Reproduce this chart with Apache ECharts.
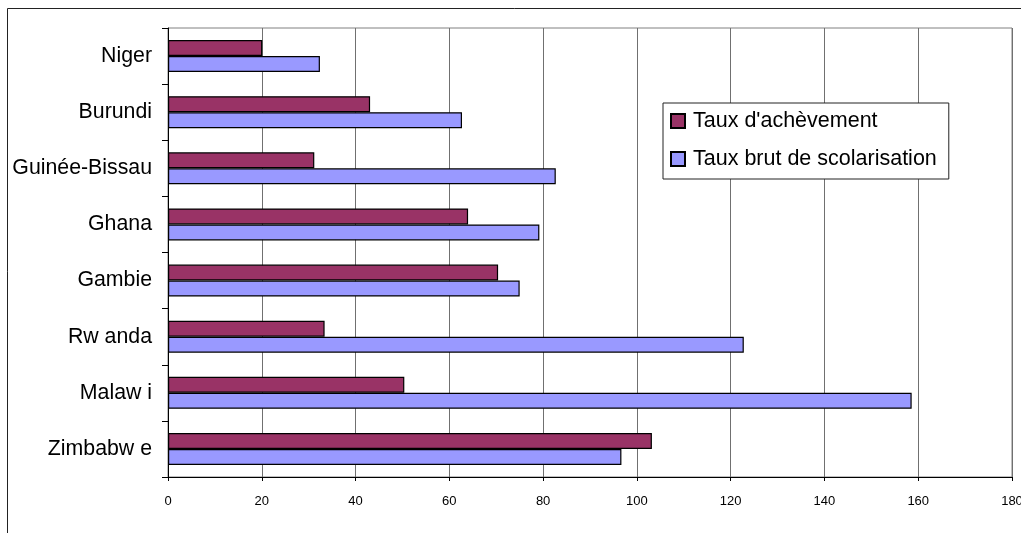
<!DOCTYPE html>
<html>
<head>
<meta charset="utf-8">
<title>Taux d'achèvement et taux brut de scolarisation</title>
<script src="https://cdn.jsdelivr.net/npm/echarts@6/dist/echarts.min.js"></script>
<style>
  html, body { margin: 0; padding: 0; background: #fff; }
  #chart { width: 1021px; height: 533px; }
</style>
</head>
<body>
<div id="chart"></div>
<script>
// Countries, top to bottom
const countries = ['Niger', 'Burundi', 'Guinée-Bissau', 'Ghana', 'Gambie', 'Rw anda', 'Malaw i', 'Zimbabw e'];
// Completion rate (%)
const tauxAchevement = [20.1, 43.1, 31.2, 64.0, 70.4, 33.4, 50.4, 103.2];
// Gross enrolment ratio (%)
const tauxBrut = [32.4, 62.7, 82.7, 79.2, 75.0, 122.8, 158.6, 96.7];
// Value axis ticks
const xTicks = [0, 20, 40, 60, 80, 100, 120, 140, 160, 180];

const font = "'Liberation Sans', Arial, sans-serif";
const chart = echarts.init(document.getElementById('chart'), null, { renderer: 'canvas' });

chart.setOption({
  animation: false,
  backgroundColor: '#fff',
  textStyle: { fontFamily: font },
  graphic: [{
    type: 'rect',
    shape: { x: 7.5, y: 8.5, width: 1100, height: 600 },
    style: { fill: 'none', stroke: '#222', lineWidth: 1 },
    silent: true,
    z: 0
  }],
  grid: {
    left: 168, top: 28, right: 9, bottom: 56,
    outerBoundsMode: 'none',
    containLabel: false,
    show: true, borderColor: '#808080', borderWidth: 1, backgroundColor: 'transparent'
  },
  legend: {
    orient: 'vertical',
    left: 663, top: 103,
    backgroundColor: '#fff',
    borderColor: '#222', borderWidth: 1,
    padding: [7, 12, 9, 7],
    itemWidth: 14, itemHeight: 14, itemGap: 16,
    icon: 'rect',
    textStyle: { fontFamily: font, fontSize: 21.5, color: '#000', lineHeight: 22, padding: [0, 0, 0, 3] },
    data: ["Taux d'achèvement", 'Taux brut de scolarisation']
  },
  xAxis: {
    type: 'value',
    min: xTicks[0], max: xTicks[xTicks.length - 1], interval: 20,
    axisLine: { show: true, lineStyle: { color: '#000', width: 1 } },
    axisTick: { show: true, length: 4, lineStyle: { color: '#000' } },
    axisLabel: {
      fontFamily: font, fontSize: 13, color: '#000', margin: 18,
      formatter: v => xTicks.includes(v) ? String(v) : ''
    },
    splitLine: { show: true, lineStyle: { color: '#707070', width: 1 } }
  },
  yAxis: {
    type: 'category',
    inverse: true,
    data: countries,
    axisLine: { show: true, lineStyle: { color: '#000', width: 1 } },
    axisTick: { show: true, length: 6, lineStyle: { color: '#000' } },
    axisLabel: { fontFamily: font, fontSize: 21.3, color: '#000', margin: 16 },
    splitLine: { show: false }
  },
  series: [
    {
      name: "Taux d'achèvement",
      type: 'bar',
      data: tauxAchevement,
      barWidth: 16,
      barGap: '0%',
      itemStyle: { color: '#993366', borderColor: '#000', borderWidth: 1.2 }
    },
    {
      name: 'Taux brut de scolarisation',
      type: 'bar',
      data: tauxBrut,
      barWidth: 16,
      barGap: '0%',
      itemStyle: { color: '#9999FF', borderColor: '#000', borderWidth: 1.2 }
    }
  ]
});
</script>
</body>
</html>
